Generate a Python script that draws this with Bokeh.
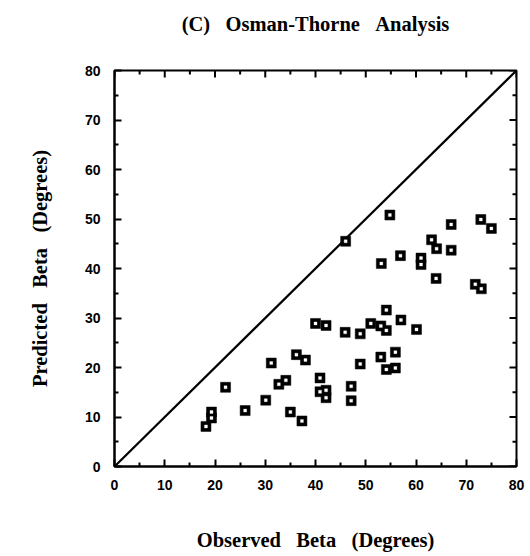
from bokeh.plotting import figure
from bokeh.models import Range1d, FixedTicker, LinearAxis
from bokeh.embed import file_html
from bokeh.resources import INLINE

# Observed vs predicted beta (degrees)
observed = [54.8, 46.0, 67.0, 72.9, 75.0, 63.1, 64.1, 67.0, 56.9, 53.1,
            61.0, 61.0, 64.0, 71.8, 73.0, 54.1, 57.0, 51.0, 53.0, 54.1,
            60.1, 45.9, 48.9, 40.0, 42.1, 36.2, 38.0, 31.2, 48.9, 40.9,
            34.1, 32.7, 47.1, 53.0, 55.9, 54.1, 55.9, 40.9, 42.1, 42.1,
            47.1, 37.3, 22.1, 30.1, 26.0, 19.3, 19.3, 18.2, 35.0]
predicted = [50.8, 45.5, 48.9, 49.9, 48.1, 45.8, 44.0, 43.7, 42.6, 41.0,
             42.1, 40.8, 38.0, 36.8, 35.9, 31.6, 29.6, 28.9, 28.4, 27.5,
             27.7, 27.1, 26.8, 28.9, 28.5, 22.6, 21.5, 20.9, 20.7, 17.9,
             17.4, 16.6, 16.2, 22.1, 23.1, 19.6, 19.9, 15.1, 15.4, 13.9,
             13.3, 9.2, 16.0, 13.4, 11.3, 11.0, 9.8, 8.1, 11.0]
identity_x = [0, 80]
identity_y = [0, 80]
ticks = [0, 10, 20, 30, 40, 50, 60, 70, 80]
minor = [5, 15, 25, 35, 45, 55, 65, 75]
AXIS_MAX = 80

W, H = 528, 553
ML, MR, MT, MB = 114, 12, 70, 83
p = figure(width=W, height=H, output_backend="svg", toolbar_location=None,
           x_range=Range1d(0, AXIS_MAX), y_range=Range1d(0, AXIS_MAX),
           min_border_left=ML, min_border_right=MR, min_border_top=MT,
           min_border_bottom=MB)
p.xgrid.visible = False
p.ygrid.visible = False
p.outline_line_color = "black"
p.outline_line_width = 2
p.background_fill_color = "white"
p.border_fill_color = "white"

SP = " \u2002"
xax = p.below[0]
yax = p.left[0]

def style(ax):
    ax.ticker = FixedTicker(ticks=ticks, minor_ticks=minor)
    ax.axis_line_width = 2
    ax.axis_line_color = "black"
    ax.major_tick_in = 7
    ax.major_tick_out = 0
    ax.minor_tick_in = 4
    ax.minor_tick_out = 0
    ax.major_tick_line_width = 2
    ax.minor_tick_line_width = 2
    ax.major_tick_line_color = "black"
    ax.minor_tick_line_color = "black"
    ax.major_label_text_font = "Liberation Sans"
    ax.major_label_text_font_style = "bold"
    ax.major_label_text_font_size = "14px"
    ax.major_label_text_color = "black"
    ax.axis_label_text_font = "Liberation Serif"
    ax.axis_label_text_font_style = "bold"
    ax.axis_label_text_font_size = "20.5px"
    ax.axis_label_text_color = "black"

style(xax)
style(yax)
xax.axis_label = "Observed" + SP + "Beta" + SP + "(Degrees)"
yax.axis_label = "Predicted" + SP + "Beta" + SP + "(Degrees)"
xax.major_label_standoff = 13
xax.axis_label_standoff = 36
yax.major_label_standoff = 14
yax.axis_label_standoff = 31

# title carried by a tick-less top axis so its distance from the frame is exact
top = LinearAxis(ticker=FixedTicker(ticks=[], minor_ticks=[]))
top.axis_line_color = None
top.major_tick_line_color = None
top.minor_tick_line_color = None
top.axis_label = "(C)" + SP + "Osman-Thorne" + SP + "Analysis"
top.axis_label_text_font = "Liberation Serif"
top.axis_label_text_font_size = "20.5px"
top.axis_label_text_font_style = "bold"
top.axis_label_text_color = "black"
top.axis_label_standoff = 36
top.major_label_standoff = 0
p.add_layout(top, "above")

# inward ticks on the top and right frame edges (lengths in px converted to data units)
fw = W - ML - MR
fh = H - MT - MB
ux = AXIS_MAX / fw
uy = AXIS_MAX / fh
maj_len, min_len = 7, 4
p.segment(x0=ticks, y0=[AXIS_MAX] * len(ticks), x1=ticks,
          y1=[AXIS_MAX - maj_len * uy] * len(ticks), line_color="black", line_width=2)
p.segment(x0=minor, y0=[AXIS_MAX] * len(minor), x1=minor,
          y1=[AXIS_MAX - min_len * uy] * len(minor), line_color="black", line_width=2)
p.segment(x0=[AXIS_MAX] * len(ticks), y0=ticks, x1=[AXIS_MAX - maj_len * ux] * len(ticks),
          y1=ticks, line_color="black", line_width=2)
p.segment(x0=[AXIS_MAX] * len(minor), y0=minor, x1=[AXIS_MAX - min_len * ux] * len(minor),
          y1=minor, line_color="black", line_width=2)

p.line(identity_x, identity_y, line_color="black", line_width=2.2)
p.scatter(observed, predicted, marker="square", size=10, fill_color="black",
          line_color="black", line_width=0.5)
p.scatter(observed, predicted, marker="square", size=3, fill_color="white",
          line_color="white", line_width=0.3)

open("out.html", "w").write(file_html(p, INLINE))
